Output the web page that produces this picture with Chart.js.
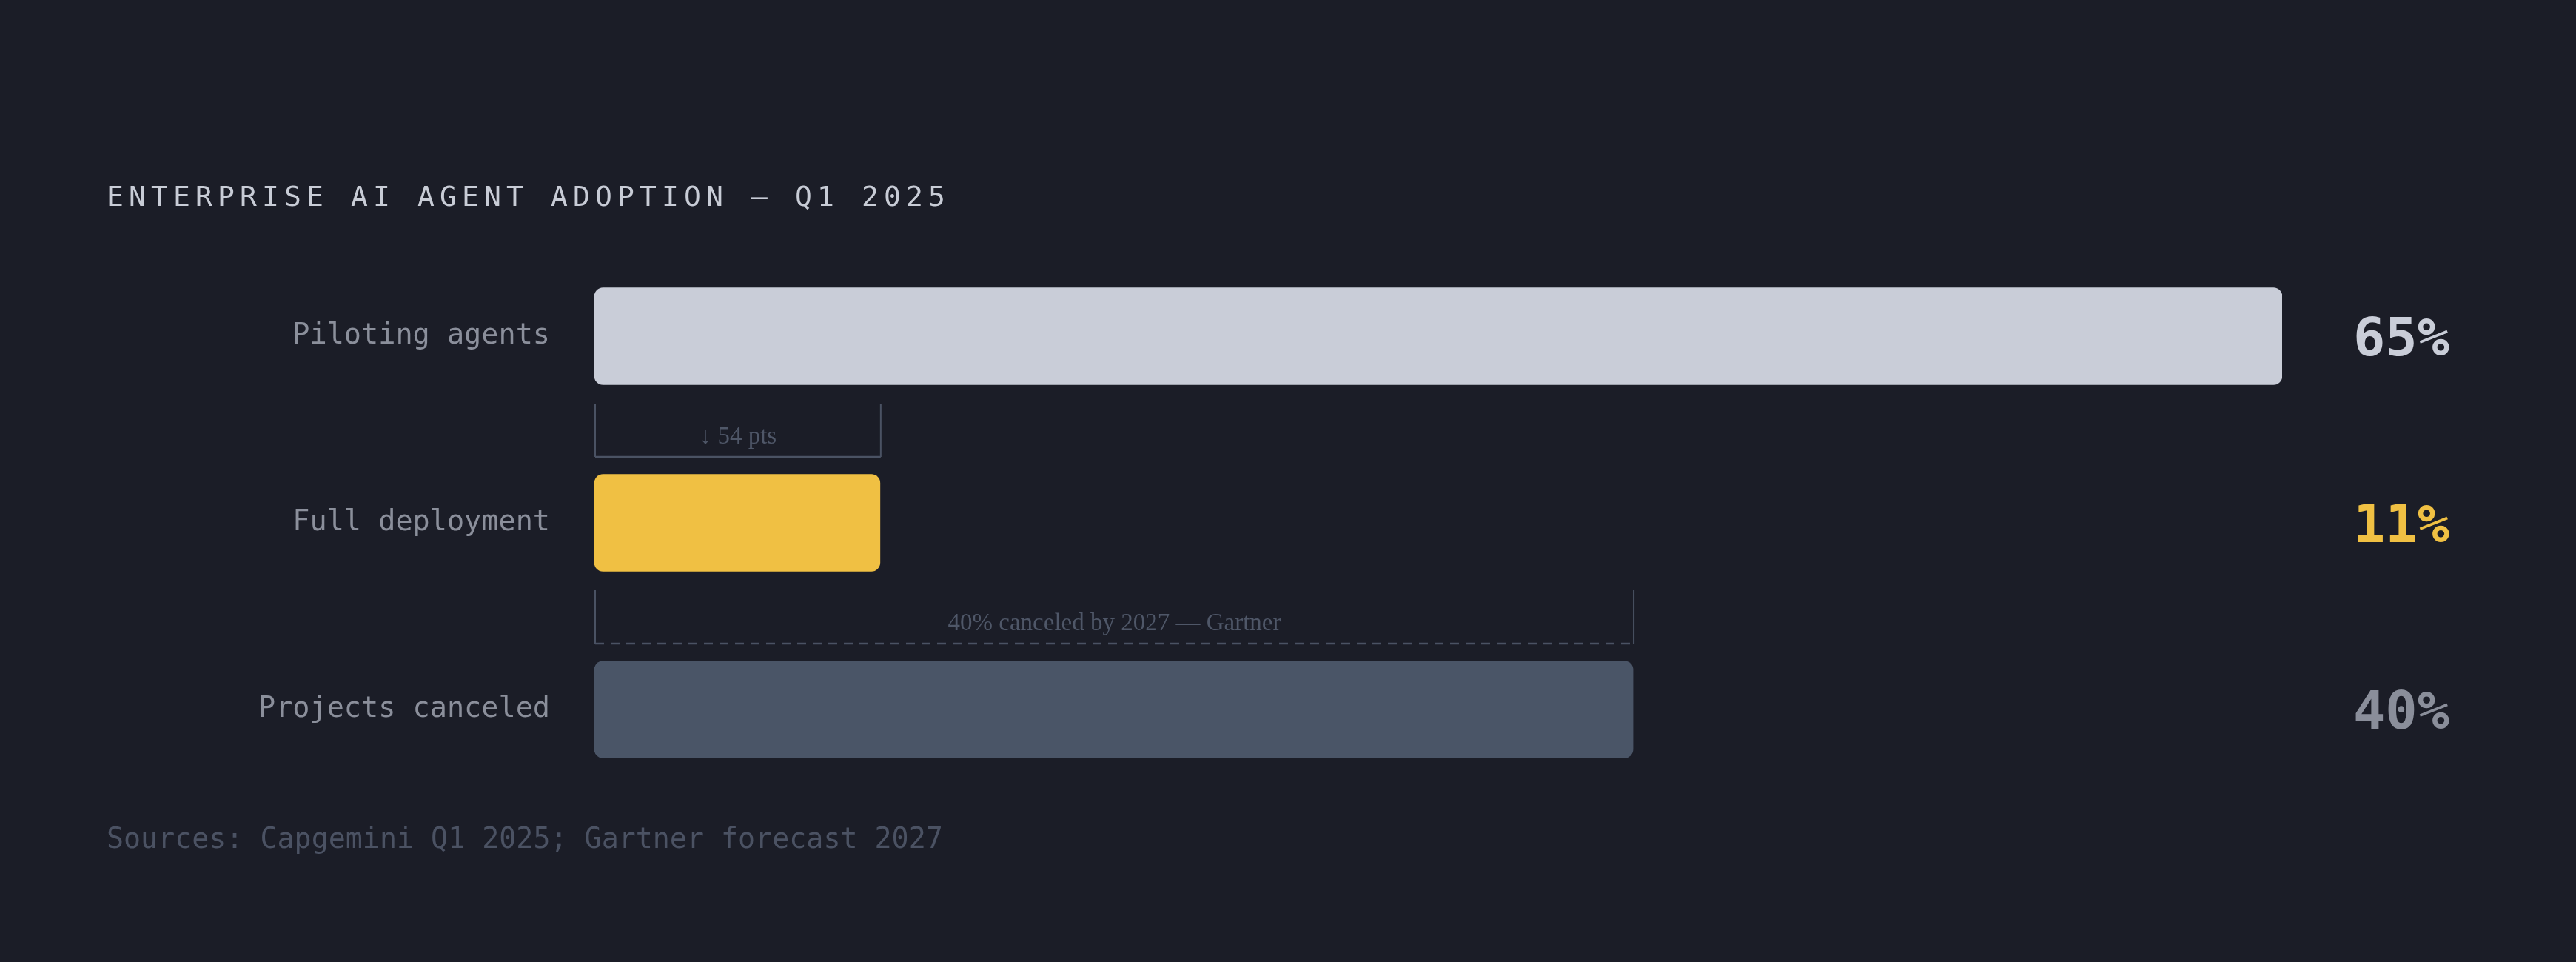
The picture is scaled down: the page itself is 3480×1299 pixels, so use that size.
<!DOCTYPE html>
<html>
<head>
<meta charset="utf-8">
<title>Enterprise AI agent adoption</title>
<script src="https://cdn.jsdelivr.net/npm/chart.js@4/dist/chart.umd.min.js"></script>
<style>
  html, body { margin: 0; padding: 0; background: #1b1d27; }
  body { width: 3480px; height: 1299px; position: relative; overflow: hidden; }
  #wrap { position: absolute; left: 0; top: 0; width: 3480px; height: 1299px; }
  .title {
    position: absolute; left: 144px; top: 246px;
    font: 38px "DejaVu Sans Mono", monospace; line-height: 38px;
    letter-spacing: 7.12px; color: #c8ccd6; white-space: nowrap;
  }
  .source {
    position: absolute; left: 144px; top: 1113px;
    font: 38.3px "DejaVu Sans Mono", monospace; line-height: 38.3px;
    color: #4b5263; white-space: nowrap;
  }
</style>
</head>
<body>
<div id="wrap"><canvas id="chart" width="3480" height="1299"></canvas></div>
<div class="title">ENTERPRISE AI AGENT ADOPTION — Q1 2025</div>
<div class="source">Sources: Capgemini Q1 2025; Gartner forecast 2027</div>

<script>
// ---- data ----------------------------------------------------------
const categories  = ['Piloting agents', 'Full deployment', 'Projects canceled'];
const shares      = [65, 11, 40];
const barColors   = ['#c9cdd8', '#f0c043', '#4a5567'];
const valueColors = ['#c9cdd8', '#f0c043', '#8a8e9a'];

// brackets sit between two rows and span 0 → end value
const bracketEnds   = [11, 40];
const bracketTexts  = ['↓ 54 pts', '40% canceled by 2027 — Gartner'];
const bracketDashed = [false, true];

// ---- plugins -------------------------------------------------------
const valueLabels = {
  id: 'valueLabels',
  afterDatasetsDraw(chart) {
    const { ctx, chartArea } = chart;
    const meta = chart.getDatasetMeta(0);
    ctx.save();
    ctx.font = 'bold 72px "DejaVu Sans Mono", monospace';
    ctx.textAlign = 'right';
    ctx.textBaseline = 'alphabetic';
    meta.data.forEach((bar, i) => {
      ctx.fillStyle = valueColors[i];
      ctx.fillText(shares[i] + '%', chartArea.right + 226, bar.y + 26);
    });
    ctx.restore();
  }
};

const brackets = {
  id: 'brackets',
  afterDatasetsDraw(chart) {
    const { ctx } = chart;
    const x = chart.scales.x, y = chart.scales.y;
    ctx.save();
    bracketEnds.forEach((end, i) => {
      const mid = y.getPixelForValue(i + 0.5);
      const x0 = x.getPixelForValue(0) + 1;
      const x1 = x.getPixelForValue(end) + 1;
      const top = mid - 35, bot = mid + 37;

      ctx.strokeStyle = '#4a5263';
      ctx.lineWidth = 2;
      ctx.setLineDash([]);
      ctx.beginPath();
      ctx.moveTo(x0, top); ctx.lineTo(x0, bot);
      ctx.moveTo(x1, top); ctx.lineTo(x1, bot);
      ctx.stroke();

      ctx.lineWidth = 2.5;
      ctx.setLineDash(bracketDashed[i] ? [12, 9] : []);
      ctx.beginPath();
      ctx.moveTo(x0, bot); ctx.lineTo(x1, bot);
      ctx.stroke();

      ctx.setLineDash([]);
      ctx.fillStyle = '#4f5768';
      ctx.font = '33px "Liberation Serif", serif';
      ctx.textAlign = 'center';
      ctx.textBaseline = 'alphabetic';
      ctx.fillText(bracketTexts[i], (x0 + x1) / 2, mid + 19);
    });
    ctx.restore();
  }
};

// ---- chart ---------------------------------------------------------
new Chart(document.getElementById('chart'), {
  type: 'bar',
  data: {
    labels: categories,
    datasets: [{
      data: shares,
      backgroundColor: barColors,
      borderRadius: 12,
      borderSkipped: false,
      barThickness: 131,
    }],
  },
  options: {
    indexAxis: 'y',
    responsive: false,
    animation: false,
    devicePixelRatio: 1,
    layout: { padding: { top: 328, bottom: 215, left: 0, right: 397 } },
    plugins: { legend: { display: false }, tooltip: { enabled: false } },
    scales: {
      x: { min: 0, max: 65, display: false },
      y: {
        grid: { display: false, drawTicks: false },
        border: { display: false },
        ticks: {
          color: '#8b8f9b',
          padding: 60,
          font: { family: '"DejaVu Sans Mono", monospace', size: 38.5 },
        },
        afterFit(scale) { scale.width = 803; },
      },
    },
  },
  plugins: [brackets, valueLabels],
});
</script>
</body>
</html>
